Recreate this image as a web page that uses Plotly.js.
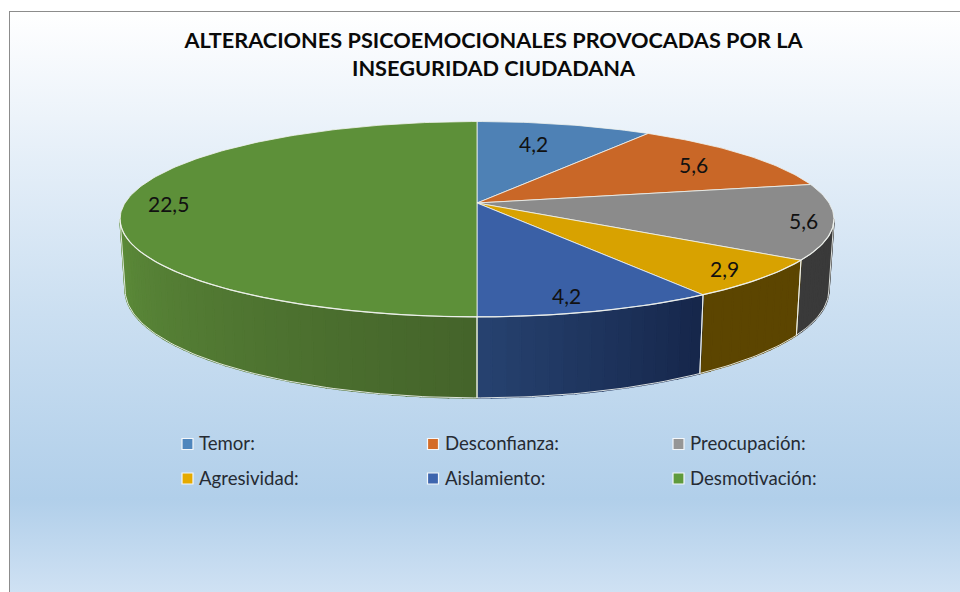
<!DOCTYPE html>
<html>
<head>
<meta charset="utf-8">
<script src="https://cdn.plot.ly/plotly-3.0.1.min.js"></script>
<style>
html,body{margin:0;padding:0;background:#fff;width:960px;height:592px;overflow:hidden}
#frame{position:absolute;left:9px;top:11px;width:951px;height:581px;box-sizing:border-box;border-left:1.5px solid #8c8c8c;border-top:1.5px solid #8c8c8c;
background:linear-gradient(to bottom,#ffffff 0%,#e4eef8 26%,#cbdff1 52%,#b1cfea 84%,#cfe1f3 100%)}
#chart{position:absolute;left:0;top:0;width:960px;height:592px}
</style>
</head>
<body>
<div id="frame"></div>
<div id="chart"></div>
<script>
// Data
const categories = ["Temor:", "Desconfianza:", "Preocupación:", "Agresividad:", "Aislamiento:", "Desmotivación:"];
const values = [4.2, 5.6, 5.6, 2.9, 4.2, 22.5];
const titleText = "ALTERACIONES PSICOEMOCIONALES PROVOCADAS POR LA<br>INSEGURIDAD CIUDADANA";

// Styles
const topColors = ["#4e81b5", "#c96727", "#8b8b8b", "#d8a200", "#3a60a6", "#5d9039"];
const legendColors = ["#4f86bd", "#d46c28", "#969696", "#e5aa00", "#3d65ae", "#5f9a3c"];
const wallStart = ["#2c4d6e", "#7a3e17", "#3a3a3a", "#5c4500", "#16264a", "#44642a"];
const wallEnd = ["#2c4d6e", "#7a3e17", "#3a3a3a", "#5c4500", "#264270", "#5d8c3a"];
const labelShift = [[-31, 19], [-51, 10], [-30, -1], [-35, -10], [-31, -16], [43, 0]];
const legendCols = [187.5, 433, 678.5];
const legendRows = [444, 478.5];
const legendTextGap = 9.5;
const legendTextShift = 1;
const edgeColor = "rgba(240,243,238,0.9)";
const fontFamily = "Lato, Carlito, Calibri, sans-serif";

// Pie projection: a disc seen in perspective
const cx = 477, persp = 0.166;
const topDisc = {X: 352, Y0: 203, Yc: 95};
const botDisc = {X: 347, Y0: 272, Yc: 105};
const rad = d => d * Math.PI / 180;
function project(disc, deg) {
  const s = Math.sin(rad(deg)), c = Math.cos(rad(deg)), d = 1 + persp * c;
  return [cx + disc.X * s / d, disc.Y0 - disc.Yc * c / d];
}
function arc(disc, a, b, step) {
  const n = Math.max(1, Math.ceil(Math.abs(b - a) / step)), pts = [];
  for (let i = 0; i <= n; i++) pts.push(project(disc, a + (b - a) * i / n));
  return pts;
}
function mix(h1, h2, t) {
  const p = (h, i) => parseInt(h.substr(1 + 2 * i, 2), 16);
  return "rgb(" + [0, 1, 2].map(i => Math.round(p(h1, i) + (p(h2, i) - p(h1, i)) * t)).join(",") + ")";
}

const total = values.reduce((a, b) => a + b, 0);
let acc = 0;
const slices = values.map(v => { const a = acc / total * 360; acc += v; return [a, acc / total * 360]; });

const edgeDeg = Math.acos(-persp) * 180 / Math.PI;
const wallFrom = edgeDeg, wallTo = 360 - edgeDeg;

const traces = [];
function poly(pts, fill, lineColor, w) {
  traces.push({type: "scatter", mode: "lines", x: pts.map(p => p[0]), y: pts.map(p => p[1]),
    fill: "toself", fillcolor: fill, line: {color: lineColor, width: w}, hoverinfo: "skip", showlegend: false});
}
function stroke(pts, w, color) {
  traces.push({type: "scatter", mode: "lines", x: pts.map(p => p[0]), y: pts.map(p => p[1]),
    line: {color: color || edgeColor, width: w}, hoverinfo: "skip", showlegend: false});
}

// Side wall, in narrow strips to carry the shading
slices.forEach((s, i) => {
  const a = Math.max(s[0], wallFrom), b = Math.min(s[1], wallTo);
  if (b <= a) return;
  const n = Math.ceil((b - a) / 2);
  for (let k = 0; k < n; k++) {
    const a1 = a + (b - a) * k / n, b1 = a + (b - a) * (k + 1) / n;
    const col = mix(wallStart[i], wallEnd[i], (k + 0.5) / n);
    const pts = arc(topDisc, a1, b1, 1).concat(arc(botDisc, b1, a1, 1));
    pts.push(pts[0]);
    poly(pts, col, col, 1.6);
  }
});
// Wall edges
stroke(arc(botDisc, wallFrom, wallTo, 1), 1);
slices.forEach(s => {
  [s[0], s[1]].forEach(d => {
    if (d > wallFrom && d < wallTo) stroke([project(topDisc, d), project(botDisc, d)], 1);
  });
});
stroke([project(topDisc, wallFrom), project(botDisc, wallFrom)], 1);
stroke([project(topDisc, wallTo), project(botDisc, wallTo)], 1);

// Top face
slices.forEach((s, i) => {
  const apex = [cx, topDisc.Y0];
  const pts = [apex].concat(arc(topDisc, s[0], s[1], 1));
  pts.push(apex);
  poly(pts, topColors[i], edgeColor, 0.9);
});
// Rim highlight on the front
stroke(arc(topDisc, wallFrom, wallTo, 1), 1.2);

// Legend keys
const keyX = [], keyY = [];
categories.forEach((c, i) => {
  keyX.push(legendCols[i % 3]);
  keyY.push(legendRows[Math.floor(i / 3)]);
});
traces.push({type: "scatter", mode: "markers", x: keyX, y: keyY, hoverinfo: "skip", showlegend: false,
  marker: {symbol: "square", size: 11, color: legendColors, line: {color: "#f4f7fa", width: 1.2}}});

// Value labels and legend text
const annotations = [];
slices.forEach((s, i) => {
  const p = project(topDisc, (s[0] + s[1]) / 2);
  annotations.push({x: p[0], y: p[1], xref: "x", yref: "y", xshift: labelShift[i][0], yshift: -labelShift[i][1],
    text: String(values[i]).replace(".", ","), showarrow: false, xanchor: "center", yanchor: "middle",
    font: {family: fontFamily, size: 21, color: "#111"}});
});
categories.forEach((c, i) => {
  annotations.push({x: keyX[i] + legendTextGap, y: keyY[i], xref: "x", yref: "y", yshift: legendTextShift, text: c, showarrow: false,
    xanchor: "left", yanchor: "middle", font: {family: fontFamily, size: 18.6, color: "#262b33"}});
});

const hidden = {visible: false, fixedrange: true, showgrid: false, zeroline: false};
const layout = {
  width: 960, height: 592,
  margin: {l: 0, r: 0, t: 0, b: 0},
  paper_bgcolor: "rgba(0,0,0,0)", plot_bgcolor: "rgba(0,0,0,0)",
  showlegend: false,
  title: {text: titleText, x: 493.5 / 960, xref: "paper", xanchor: "center", y: 1 - 48 / 592, yref: "paper", yanchor: "middle",
    font: {family: fontFamily, size: 21.7, color: "#0a0a0a", weight: 700}},
  xaxis: Object.assign({range: [0, 960], domain: [0, 1]}, hidden),
  yaxis: Object.assign({range: [592, 0], domain: [0, 1]}, hidden),
  annotations: annotations
};
Plotly.newPlot("chart", traces, layout, {displayModeBar: false, staticPlot: true});
</script>
</body>
</html>
